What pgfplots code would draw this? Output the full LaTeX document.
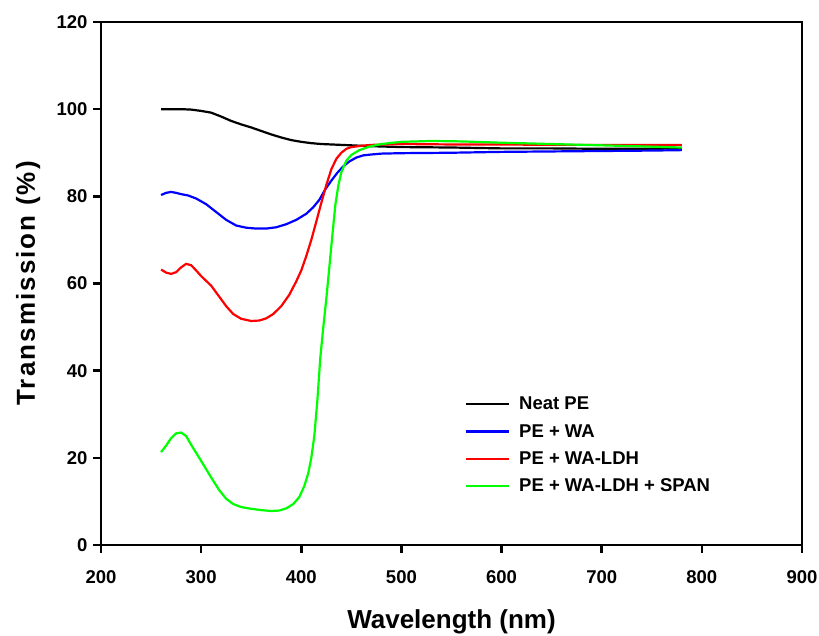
\documentclass[border=0pt]{standalone}
\usepackage{fontspec}
\setmainfont{Liberation Sans}
\newfontfamily\ylabfont[LetterSpace=8]{Liberation Sans}
\usepackage{pgfplots}
\pgfplotsset{compat=1.18}
\definecolor{cblue}{RGB}{0,0,255}
\definecolor{cred}{RGB}{255,0,0}
\definecolor{cgreen}{RGB}{0,255,0}
\begin{document}
\begin{tikzpicture}
\path[use as bounding box] (-101pt,-91pt) rectangle (718pt,545pt);
\begin{axis}[
  at={(0pt,0pt)}, anchor=south west, scale only axis,
  width=701pt, height=523pt,
  xmin=200, xmax=900, ymin=0, ymax=120,
  xtick={200,300,...,900}, ytick={0,20,...,120},
  tick align=outside, tick pos=left,
  major tick length=8pt,
  axis line style={line width=2.5pt},
  every tick/.style={line width=2.5pt, black},
  ticklabel style={font=\fontsize{18.5}{18.5}\selectfont\bfseries},
  xticklabel style={yshift=-14pt},
  yticklabel style={xshift=-2pt},
  /pgf/number format/assume math mode=true,
  xlabel={\fontsize{26}{26}\selectfont\bfseries Wavelength (nm)},
  ylabel={\fontsize{26}{26}\selectfont\ylabfont\bfseries Transmission (\%)},
  xlabel style={at={(axis description cs:0.5,-0.147)}, anchor=center},
  ylabel style={at={(axis description cs:-0.104,0.5)}, anchor=center},
  legend style={draw=none, fill=none, at={(axis description cs:0.519,0.287)}, anchor=north west,
    font=\fontsize{18.5}{18.5}\selectfont\bfseries, row sep=9pt, column sep=7pt, inner sep=0pt},
  legend cell align=left,
  legend image code/.code={\draw[#1] (0pt,0pt) -- (43pt,0pt);},
]
\addplot[black, line width=2.2pt] coordinates {
(260,100.0) (270,100.0) (280,100.0) (290,99.9) (300,99.6) (310,99.2) (320,98.3) (330,97.3)
(340,96.5) (350,95.8) (360,95.0) (370,94.2) (380,93.5) (390,92.9) (400,92.5) (410,92.2)
(420,92.0) (430,91.9) (440,91.8) (450,91.7) (470,91.5) (500,91.3) (550,91.2) (600,91.0)
(650,91.0) (700,90.9) (750,90.9) (780,91.0)};
\addlegendentry{Neat PE}
\addplot[cblue, line width=2.2pt] coordinates {
(260,80.3) (265,80.8) (270,81.0) (275,80.8) (280,80.5) (287,80.2) (295,79.5) (305,78.2)
(315,76.4) (325,74.6) (335,73.3) (345,72.8) (355,72.6) (365,72.6) (375,72.9) (385,73.6)
(395,74.6) (405,76.0) (412,77.5) (418,79.2) (424,81.6) (430,83.6) (436,85.4) (442,86.9)
(448,88.0) (455,88.9) (462,89.4) (470,89.6) (480,89.8) (500,89.9) (550,90.0) (600,90.2)
(650,90.3) (700,90.4) (750,90.5) (780,90.6)};
\addlegendentry{PE + WA}
\addplot[cred, line width=2.2pt] coordinates {
(260,63.2) (265,62.5) (270,62.2) (275,62.6) (280,63.7) (285,64.5) (290,64.2) (295,63.0)
(300,61.7) (310,59.5) (318,57.0) (325,54.8) (332,53.0) (340,51.9) (350,51.4) (358,51.5)
(365,52.0) (372,53.0) (380,54.8) (388,57.4) (395,60.5) (400,63.0) (405,66.3) (410,70.0)
(415,74.2) (420,78.5) (425,82.6) (430,86.2) (435,88.6) (440,90.0) (445,90.9) (450,91.3)
(460,91.6) (470,91.8) (500,92.0) (550,91.9) (600,91.9) (650,91.8) (700,91.8) (750,91.8)
(780,91.8)};
\addlegendentry{PE + WA-LDH}
\addplot[cgreen, line width=2.2pt] coordinates {
(260,21.3) (265,22.8) (270,24.5) (275,25.6) (280,25.8) (285,25.0) (290,23.0) (300,19.3)
(310,15.5) (318,12.6) (325,10.6) (332,9.4) (340,8.7) (350,8.3) (360,8.0) (370,7.8)
(378,7.9) (385,8.4) (392,9.4) (398,11.0) (403,13.5) (407,16.5) (410,20.0) (413,25.0)
(416,33.0) (419,43.0) (422,50.0) (425,56.5) (428,63.7) (431,71.0) (434,78.0) (437,82.5)
(440,85.5) (445,88.2) (450,89.5) (458,90.6) (468,91.4) (480,92.0) (500,92.5) (530,92.7)
(560,92.6) (600,92.3) (650,92.0) (700,91.7) (750,91.4) (780,91.2)};
\addlegendentry{PE + WA-LDH + SPAN}
\end{axis}
\end{tikzpicture}
\end{document}
